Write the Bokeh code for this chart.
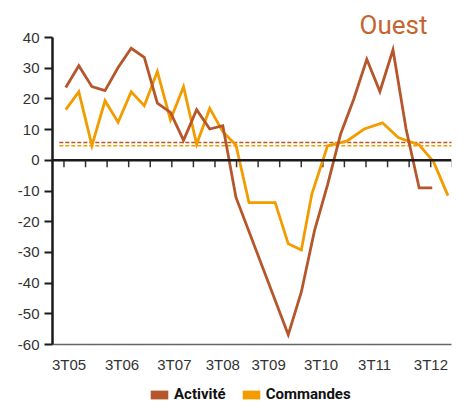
import numpy as np
from bokeh.plotting import figure
from bokeh.layouts import column
from bokeh.models import (Range1d, FixedTicker, Span, Legend, LegendItem)
from bokeh.embed import file_html
from bokeh.resources import INLINE

# ---------------- data (quarter index: 0 = 3T05) ----------------
title_text = "Ouest"
series_names = ["Activité", "Commandes"]

act_x = [0, 1, 2, 3, 4, 5, 6, 7, 8, 9, 10, 11, 12, 13, 17, 18, 19, 20,
         21, 22, 23, 24, 25, 26, 27, 28]
act_y = [23.7, 30.8, 24.0, 22.7, 30.2, 36.5, 33.5, 18.6, 15.6, 6.5, 16.5,
         10.2, 11.3, -12.0, -56.8, -42.9, -23.0, -8.0, 8.6, 19.9, 32.9,
         22.4, 36.0, 10.2, -9.0, -9.0]

com_x = [0, 1, 2, 3, 4, 5, 6, 7, 8, 9, 10, 11, 12, 13, 14, 16, 17, 18,
         18.8, 20, 21.5, 22.8, 24.2, 25.4, 27, 28.1, 29.2]
com_y = [16.5, 22.3, 4.8, 19.4, 12.4, 22.3, 17.8, 28.9, 13.2, 24.0, 5.2,
         16.9, 9.3, 5.0, -13.8, -13.8, -27.2, -29.2, -11.0, 4.7, 6.3, 10.2,
         12.2, 7.4, 5.0, -0.5, -11.5]

act_avg = 5.8
com_avg = 4.7

x_labels = ["3T05", "3T06", "3T07", "3T08", "3T09", "3T10", "3T11", "3T12"]
x_label_pos = [0.25, 4.3, 8.3, 12.0, 15.5, 19.5, 23.6, 27.9]
y_ticks = [-60, -50, -40, -30, -20, -10, 0, 10, 20, 30, 40]

# ---------------- styling ----------------
C_ACT = "#b5562b"
C_COM = "#f29c00"
C_TITLE = "#c4652f"
TXT = "#333333"

p = figure(width=452, height=375, output_backend="svg", toolbar_location=None,
           x_range=Range1d(-1.011, 29.47), y_range=Range1d(-60, 40),
           min_border_left=52, min_border_right=1, min_border_top=37,
           min_border_bottom=30)
p.border_fill_color = "white"
p.background_fill_color = "white"
p.outline_line_color = None
p.grid.visible = False

# title
p.title.text = title_text
p.title.align = "right"
p.title.offset = 24
p.title.standoff = -4
p.title.text_font = "Roboto"
p.title.text_font_size = "26px"
p.title.text_font_style = "normal"
p.title.text_color = C_TITLE

# y axis
ya = p.yaxis[0]
ya.ticker = FixedTicker(ticks=y_ticks)
ya.major_label_overrides = {t: str(t) for t in y_ticks}
ya.axis_line_color = "#1a1a1a"
ya.axis_line_width = 2.5
ya.major_tick_line_color = "#1a1a1a"
ya.major_tick_line_width = 2
ya.major_tick_out = 8
ya.major_tick_in = 0
ya.minor_tick_line_color = None
ya.major_label_standoff = 5
ya.major_label_text_font = "Liberation Sans"
ya.major_label_text_font_size = "15px"
ya.major_label_text_color = TXT

# x axis (bottom)
xa = p.xaxis[0]
xa.ticker = FixedTicker(ticks=x_label_pos)
xa.major_label_overrides = {pos: lab for pos, lab in zip(x_label_pos, x_labels)}
xa.axis_line_color = "#666666"
xa.axis_line_width = 1.5
xa.major_tick_line_color = None
xa.minor_tick_line_color = None
xa.major_label_standoff = 5
xa.major_label_text_font = "Liberation Sans"
xa.major_label_text_font_size = "15px"
xa.major_label_text_color = TXT

# zero line with downward ticks
p.add_layout(Span(location=0, dimension="width", line_color="#1a1a1a",
                  line_width=2.5))
zt = -0.135 + 1.648 * np.arange(19)
p.segment(x0=zt, y0=np.zeros_like(zt), x1=zt, y1=np.full_like(zt, -2.3),
          line_color="#333333", line_width=1.5)

# average dashed lines
x_start = p.x_range.start + 0.52
p.segment(x0=[x_start], y0=[act_avg], x1=[p.x_range.end + 1], y1=[act_avg],
          line_color=C_ACT, line_width=1.5, line_dash="4 2")
p.segment(x0=[x_start], y0=[com_avg], x1=[p.x_range.end + 1], y1=[com_avg],
          line_color=C_COM, line_width=1.5, line_dash="4 2")

# series
p.line(com_x, com_y, line_color=C_COM, line_width=2.8, line_join="miter")
p.line(act_x, act_y, line_color=C_ACT, line_width=2.8, line_join="miter")

# legend strip (separate small figure below, no axes)
lg = figure(width=452, height=27, output_backend="svg", toolbar_location=None,
            min_border=0, x_range=Range1d(0, 1), y_range=Range1d(0, 1),
            x_axis_location=None, y_axis_location=None)
lg.min_border_bottom = 0
lg.grid.visible = False
lg.outline_line_color = None
lg.border_fill_color = "white"
# hidden swatch sources (off-range, only used for the legend keys)
sw_a = lg.quad(left=[5], right=[6], top=[5], bottom=[4], fill_color=C_ACT, line_color=None)
sw_c = lg.quad(left=[5], right=[6], top=[5], bottom=[4], fill_color=C_COM, line_color=None)
legend = Legend(items=[LegendItem(label=series_names[0], renderers=[sw_a]),
                       LegendItem(label=series_names[1], renderers=[sw_c])],
                orientation="horizontal", location=(96, -1),
                glyph_width=22, glyph_height=11, label_standoff=4, spacing=14,
                padding=0, margin=0, border_line_color=None,
                background_fill_alpha=0, label_height=16,
                label_text_font="Roboto", label_text_font_style="bold",
                label_text_font_size="15px", label_text_color="#111111")
lg.add_layout(legend)

open("out.html", "w").write(file_html(column(p, lg, spacing=0), INLINE))
